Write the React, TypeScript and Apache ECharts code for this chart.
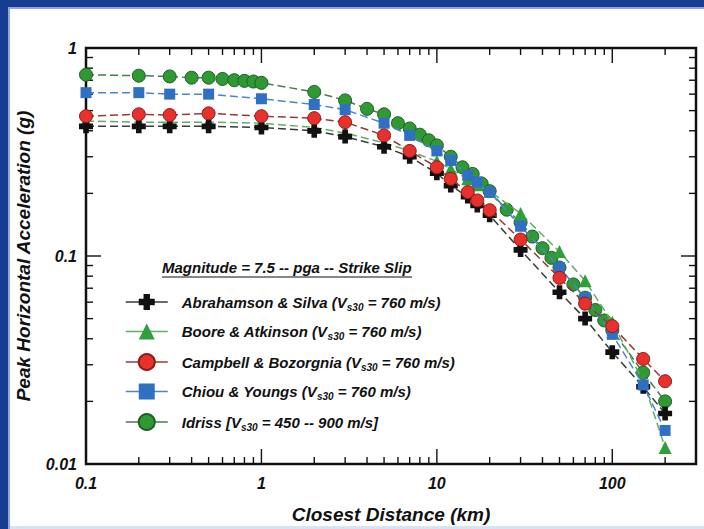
import React, { useEffect, useRef } from 'react';
import * as echarts from 'echarts';

// ---------- data ----------
const distances = [0.1, 0.2, 0.3, 0.5, 1, 2, 3, 5, 7, 10, 12, 15, 17, 20, 30, 50, 70, 100, 150, 200];
const abrahamsonSilva = [0.42, 0.42, 0.42, 0.42, 0.415, 0.4, 0.375, 0.335, 0.3, 0.25, 0.218, 0.193, 0.175, 0.157, 0.107, 0.067, 0.05, 0.0345, 0.0235, 0.0175];
const booreAtkinson = [0.445, 0.44, 0.44, 0.44, 0.435, 0.415, 0.39, 0.35, 0.32, 0.285, 0.262, 0.235, 0.22, 0.205, 0.16, 0.105, 0.076, 0.048, 0.025, 0.012];
const campbellBozorgnia = [0.47, 0.48, 0.476, 0.485, 0.47, 0.46, 0.44, 0.38, 0.32, 0.267, 0.235, 0.203, 0.185, 0.166, 0.12, 0.0785, 0.059, 0.046, 0.032, 0.025];
const chiouYoungs = [0.61, 0.61, 0.6, 0.6, 0.57, 0.535, 0.505, 0.435, 0.38, 0.32, 0.288, 0.244, 0.227, 0.203, 0.139, 0.088, 0.063, 0.042, 0.024, 0.0145];
const idrissDistances = [0.1, 0.2, 0.3, 0.4, 0.5, 0.6, 0.7, 0.8, 0.9, 1, 2, 3, 4, 5, 6, 7, 8, 9, 10, 12, 14, 16, 18, 20, 25, 30, 35, 40, 45, 50, 60, 70, 80, 90, 100, 150, 200];
const idriss = [0.744, 0.736, 0.73, 0.72, 0.72, 0.71, 0.7, 0.695, 0.69, 0.68, 0.615, 0.56, 0.51, 0.48, 0.435, 0.41, 0.383, 0.36, 0.34, 0.3, 0.267, 0.248, 0.223, 0.205, 0.167, 0.145, 0.124, 0.109, 0.098, 0.088, 0.073, 0.063, 0.055, 0.049, 0.044, 0.0275, 0.02];

const seriesNames = ['Abrahamson & Silva', 'Boore & Atkinson', 'Campbell & Bozorgnia', 'Chiou & Youngs', 'Idriss'];
const legendPrefix = ['Abrahamson & Silva (V', 'Boore & Atkinson (V', 'Campbell & Bozorgnia (V', 'Chiou & Youngs (V', 'Idriss [V'];
const legendSub = ['s30', 's30', 's30', 's30', 's30'];
const legendSuffix = [' = 760 m/s)', ' = 760 m/s)', ' = 760 m/s)', ' = 760 m/s)', ' = 450 -- 900 m/s]'];

const xTickLabels = ['0.1', '1', '10', '100'];
const yTickLabels = ['0.01', '0.1', '1'];
const xMajorTicks = [1, 10, 100];
const xMinorTicks = [0.2, 0.3, 0.4, 0.5, 0.6, 0.7, 0.8, 0.9, 2, 3, 4, 5, 6, 7, 8, 9, 20, 30, 40, 50, 60, 70, 80, 90, 200];
const yMajorTicks = [0.1];
const yMinorTicks = [0.02, 0.03, 0.04, 0.05, 0.06, 0.07, 0.08, 0.09, 0.2, 0.3, 0.4, 0.5, 0.6, 0.7, 0.8, 0.9];

const chartTitle = 'Magnitude = 7.5 -- pga -- Strike Slip';
const xAxisName = 'Closest Distance (km)';
const yAxisName = 'Peak Horizontal Acceleration (g)';

// ---------- styling ----------
const FONT = "'Liberation Sans', Arial, Helvetica, sans-serif";
const INK = '#111';
const PLUS = 'path://M6,0H14V6H20V14H14V20H6V14H0V6H6Z';

const pair = (xs: number[], ys: number[]) => xs.map((x, i) => [x, ys[i]]);
const matchLabel = (labels: string[], v: number) => {
  const hit = labels.find((l) => Math.abs(Math.log10(Number(l)) - Math.log10(v)) < 1e-6);
  return hit ?? '';
};

const tickStyle = { stroke: INK, lineWidth: 1.4 };

function renderXTick(params: any, api: any) {
  const cs = params.coordSys;
  const x = api.coord([api.value(0), api.value(1)])[0];
  const len = api.value(2) ? 15 : 7;
  const bottom = cs.y + cs.height;
  return {
    type: 'group',
    children: [
      { type: 'line', shape: { x1: x, y1: bottom, x2: x, y2: bottom - len }, style: tickStyle },
      { type: 'line', shape: { x1: x, y1: cs.y, x2: x, y2: cs.y + len }, style: tickStyle },
    ],
  };
}

function renderYTick(params: any, api: any) {
  const cs = params.coordSys;
  const y = api.coord([api.value(0), api.value(1)])[1];
  const len = api.value(2) ? 15 : 7;
  const right = cs.x + cs.width;
  return {
    type: 'group',
    children: [
      { type: 'line', shape: { x1: cs.x, y1: y, x2: cs.x + len, y2: y }, style: tickStyle },
      { type: 'line', shape: { x1: right, y1: y, x2: right - len, y2: y }, style: tickStyle },
    ],
  };
}

const dash = [8, 4];

function buildOption() {
  const textBase = { fontFamily: FONT, fontWeight: 'bold' as const, fontStyle: 'italic' as const, color: INK };
  return {
    animation: false,
    backgroundColor: '#ffffff',
    title: {
      text: chartTitle,
      left: 162,
      top: 260,
      padding: 0,
      textStyle: { ...textBase, fontSize: 15 },
    },
    grid: { left: 86, top: 48, right: 8, bottom: 61, show: true, borderColor: INK, borderWidth: 2.5, backgroundColor: 'transparent' },
    legend: {
      data: seriesNames,
      orient: 'vertical',
      left: 120,
      top: 289,
      itemWidth: 42,
      itemHeight: 20,
      itemGap: 11.5,
      selectedMode: false,
      lineStyle: { type: 'solid', width: 1.5 },
      formatter: (name: string) => {
        const i = seriesNames.indexOf(name);
        return `{a|${legendPrefix[i]}}{s|${legendSub[i]}}{a|${legendSuffix[i]}}`;
      },
      textStyle: {
        padding: [0, 0, 0, 9],
        rich: {
          a: { ...textBase, fontSize: 15, lineHeight: 20 },
          s: { ...textBase, fontSize: 10, lineHeight: 10, verticalAlign: 'bottom' },
        },
      },
    },
    xAxis: {
      type: 'log',
      logBase: 10,
      min: 0.1,
      max: 300,
      name: xAxisName,
      nameLocation: 'middle',
      nameGap: 41,
      nameTextStyle: { ...textBase, fontSize: 19 },
      axisLine: { show: false },
      axisTick: { show: false },
      minorTick: { show: false },
      splitLine: { show: false },
      axisLabel: { ...textBase, fontSize: 16, margin: 11, showMaxLabel: false, formatter: (v: number) => matchLabel(xTickLabels, v) },
    },
    yAxis: {
      type: 'log',
      logBase: 10,
      min: 0.01,
      max: 1,
      name: yAxisName,
      nameLocation: 'middle',
      nameGap: 53,
      nameRotate: 90,
      nameTextStyle: { ...textBase, fontSize: 19 },
      axisLine: { show: false },
      axisTick: { show: false },
      minorTick: { show: false },
      splitLine: { show: false },
      axisLabel: { ...textBase, fontSize: 16, margin: 9, formatter: (v: number) => matchLabel(yTickLabels, v) },
    },
    graphic: [
      { type: 'rect', shape: { x: 0, y: 0, width: 704, height: 7 }, style: { fill: '#183c91' }, silent: true },
      { type: 'rect', shape: { x: 0, y: 7, width: 704, height: 2 }, style: { fill: '#8ea8dc' }, silent: true },
      { type: 'rect', shape: { x: 0, y: 0, width: 8, height: 529 }, style: { fill: '#183c91' }, silent: true },
      { type: 'rect', shape: { x: 8, y: 7, width: 2, height: 522 }, style: { fill: '#8ea8dc' }, silent: true },
      { type: 'rect', shape: { x: 10, y: 526, width: 694, height: 3 }, style: { fill: '#d6e4f6' }, silent: true },
      { type: 'line', shape: { x1: 162, y1: 277, x2: 412, y2: 277 }, style: { stroke: INK, lineWidth: 1.2 }, silent: true },
    ],
    series: [
      {
        type: 'custom',
        name: 'xticks',
        silent: true,
        renderItem: renderXTick,
        encode: { x: 0, y: 1 },
        data: [...xMajorTicks.map((v) => [v, 0.1, 1]), ...xMinorTicks.map((v) => [v, 0.1, 0])],
        z: 1,
      },
      {
        type: 'custom',
        name: 'yticks',
        silent: true,
        renderItem: renderYTick,
        encode: { x: 0, y: 1 },
        data: [...yMajorTicks.map((v) => [1, v, 1]), ...yMinorTicks.map((v) => [1, v, 0])],
        z: 1,
      },
      {
        name: seriesNames[4],
        type: 'line',
        data: pair(idrissDistances, idriss),
        symbol: 'circle',
        symbolSize: 13,
        itemStyle: { color: '#2f9a34', borderColor: '#1f5f24', borderWidth: 1 },
        lineStyle: { color: '#4b7a4e', width: 1.5, type: dash },
        emphasis: { disabled: true },
        z: 2,
      },
      {
        name: seriesNames[1],
        type: 'line',
        data: pair(distances, booreAtkinson),
        symbol: 'triangle',
        symbolSize: 13,
        itemStyle: { color: '#2f9e3c' },
        lineStyle: { color: '#5fae66', width: 1.5, type: dash },
        emphasis: { disabled: true },
        z: 3,
      },
      {
        name: seriesNames[0],
        type: 'line',
        data: pair(distances, abrahamsonSilva),
        symbol: PLUS,
        symbolSize: 14,
        itemStyle: { color: '#111111' },
        lineStyle: { color: '#3a3a3a', width: 1.5, type: dash },
        emphasis: { disabled: true },
        z: 4,
      },
      {
        name: seriesNames[3],
        type: 'line',
        data: pair(distances, chiouYoungs),
        symbol: 'rect',
        symbolSize: 11,
        itemStyle: { color: '#2f6fc4' },
        lineStyle: { color: '#4a86d0', width: 1.5, type: dash },
        emphasis: { disabled: true },
        z: 5,
      },
      {
        name: seriesNames[2],
        type: 'line',
        data: pair(distances, campbellBozorgnia),
        symbol: 'circle',
        symbolSize: 13,
        itemStyle: { color: '#e8302c', borderColor: '#8c1d1a', borderWidth: 1 },
        lineStyle: { color: '#9a3a36', width: 1.5, type: dash },
        emphasis: { disabled: true },
        z: 6,
      },
    ],
  };
}

export default function App() {
  const ref = useRef<HTMLDivElement>(null);
  useEffect(() => {
    if (!ref.current) return;
    const chart = echarts.init(ref.current, null, { renderer: 'svg' });
    chart.setOption(buildOption() as any);
    return () => chart.dispose();
  }, []);
  return (
    <div
      ref={ref}
      style={{ position: 'fixed', left: 0, top: 0, width: 704, height: 529, background: '#ffffff' }}
    />
  );
}
